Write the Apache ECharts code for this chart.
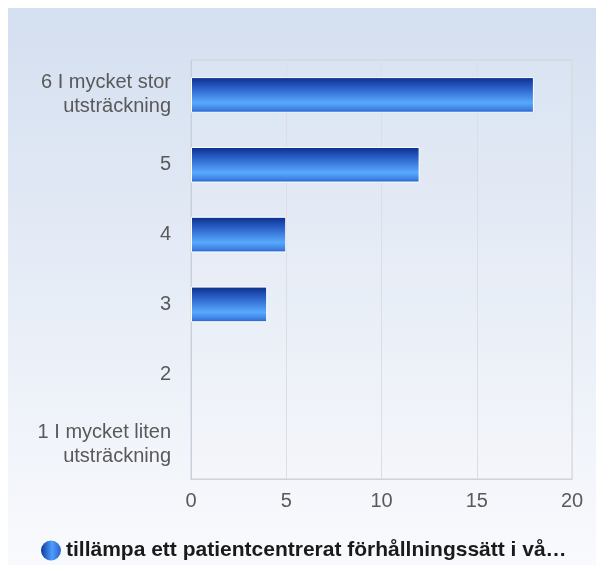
<!DOCTYPE html>
<html>
<head>
<meta charset="utf-8">
<script src="https://cdn.jsdelivr.net/npm/echarts@6/dist/echarts.min.js"></script>
<style>
html,body{margin:0;padding:0;background:#fff;}
#c{width:596px;height:565px;}
</style>
</head>
<body>
<div id="c"></div>
<script>
const categories = ['1 I mycket liten\nutsträckning', '2', '3', '4', '5', '6 I mycket stor\nutsträckning'];
const values = [0, 0, 4, 5, 12, 18];
const seriesName = 'tillämpa ett patientcentrerat förhållningssätt i vå…';
const xTicks = { min: 0, max: 20, interval: 5 };

const chart = echarts.init(document.getElementById('c'), null, { renderer: 'canvas' });
const barGrad = new echarts.graphic.LinearGradient(0, 0, 0, 1, [
  { offset: 0, color: '#0a2d8a' },
  { offset: 0.3, color: '#2a5fc6' },
  { offset: 0.72, color: '#58a9ff' },
  { offset: 0.9, color: '#3e82e4' },
  { offset: 1, color: '#235dc4' }
]);
const iconGrad = new echarts.graphic.LinearGradient(0, 0, 1, 0, [
  { offset: 0, color: '#0c3a9a' },
  { offset: 0.55, color: '#4f9cff' },
  { offset: 1, color: '#2a62c8' }
]);
chart.setOption({
  animation: false,
  textStyle: { fontFamily: 'Liberation Sans, Arial, sans-serif' },
  graphic: [{
    type: 'rect', z: -10, silent: true,
    shape: { x: 8, y: 8, width: 588, height: 557 },
    style: { fill: new echarts.graphic.LinearGradient(0, 0, 0, 1, [
      { offset: 0, color: '#d4dff0' },
      { offset: 1, color: '#f9fafd' }
    ]) }
  }],
  grid: {
    left: 191, top: 60, right: 24, bottom: 86,
    show: true, borderColor: '#d0d2d6', borderWidth: 1,
    backgroundColor: 'rgba(255,255,255,0.08)'
  },
  legend: {
    left: 41, top: 540, padding: 0,
    icon: 'circle', itemWidth: 20, itemHeight: 20, itemGap: 8, itemTextGap: 4,
    textStyle: { fontSize: 21, fontWeight: 'bold', color: '#1a1a1a' },
    data: [{ name: seriesName, itemStyle: { color: iconGrad, borderWidth: 0 } }]
  },
  xAxis: {
    type: 'value', min: xTicks.min, max: xTicks.max, interval: xTicks.interval,
    axisLine: { show: true, lineStyle: { color: '#d0d2d6' } },
    axisTick: { show: false },
    splitLine: { show: true, lineStyle: { color: '#dcdee4', width: 1 } },
    axisLabel: { fontSize: 20, color: '#595959', margin: 12 }
  },
  yAxis: {
    type: 'category', data: categories,
    axisLine: { show: true, lineStyle: { color: '#c6cee0', width: 1 } },
    axisTick: { show: false },
    axisLabel: { fontSize: 20, color: '#595959', margin: 20, lineHeight: 24, align: 'right' }
  },
  series: [{
    type: 'bar', name: seriesName,
    data: values.map(v => v === 0 ? { value: v, itemStyle: { borderWidth: 0, opacity: 0 } } : v),
    barWidth: '51%',
    itemStyle: { color: barGrad, borderColor: '#ffffff', borderWidth: 1 }
  }]
});
</script>
</body>
</html>
